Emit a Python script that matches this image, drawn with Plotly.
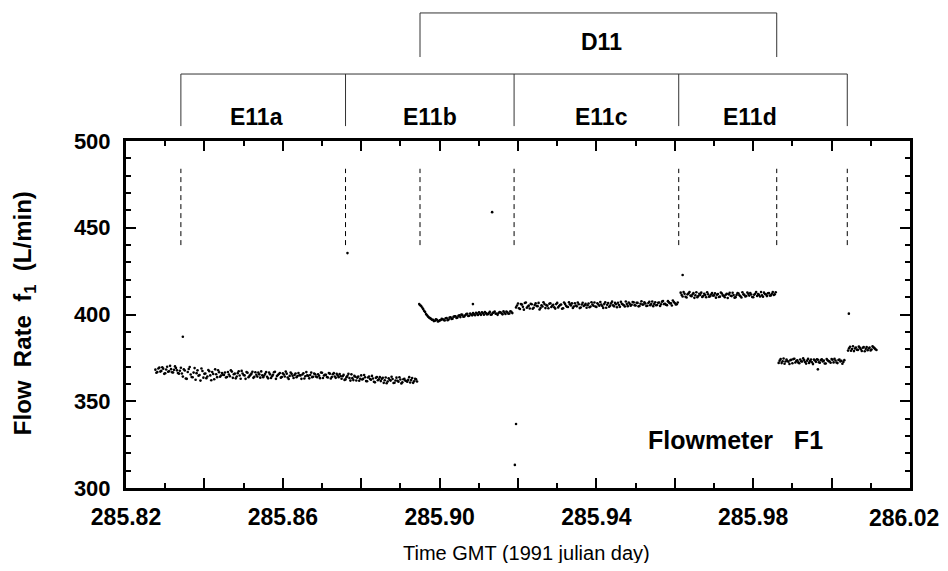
import numpy as np
import plotly.graph_objects as go

# ---------------- data ----------------
STEP = 0.0005  # sampling interval (day); second pass sampled half a step later
seg_start = [285.8275, 285.8948, 285.9195, 285.9615, 285.9865, 286.0042]

seg1 = [368.2, 366.9, 369.4, 367.5, 368.8, 366.1, 369.9, 367.3, 368.5, 366.6, 370.1, 367.8, 365.9,
        369.3, 364.2, 367.7, 362.9, 368.6, 365.4, 363.8, 369.1, 366.2, 364.7, 361.9, 367.4, 365.8,
        363.3, 368.0, 364.9, 366.8, 362.7, 365.6, 367.9, 364.1, 366.3,
        365.2, 363.7, 366.9, 364.4, 367.1, 365.6, 363.2, 366.2, 364.8, 367.5, 365.1, 362.9, 366.4,
        364.6, 365.9, 363.5, 366.7, 364.2, 365.5, 367.2,
        363.9, 365.8, 364.1, 366.5, 363.4, 365.3, 367.0, 364.5, 365.7, 363.6, 366.1, 364.3, 365.9,
        362.8, 366.6, 364.7, 365.2, 363.8, 366.3, 364.9,
        365.4, 363.1, 366.8, 364.6, 365.1, 363.9, 366.0, 364.2, 365.6, 363.3, 366.4, 364.8, 365.3,
        363.7, 365.9, 364.0, 366.2, 363.5, 364.9, 365.7,
        363.0, 365.2, 362.6, 364.7, 363.4, 365.5, 362.2, 364.1, 363.6, 361.8, 364.9, 362.9, 363.8,
        361.5, 364.3, 362.4, 363.1, 360.9, 364.0, 362.7,
        361.6, 363.5, 362.1, 360.4, 363.2, 361.9, 362.8, 360.7, 363.6, 361.3, 362.5, 360.9, 363.0,
        361.7, 362.3, 360.8, 363.4, 361.5, 362.6]
seg1b = [366.4, 368.9, 367.1, 369.6, 365.8, 368.3, 367.0, 370.4, 366.7, 368.1, 369.2, 366.3, 367.6,
         366.0, 368.4, 363.1, 366.9, 369.7, 364.0, 366.5, 362.4, 367.8, 365.1, 368.9, 363.6, 366.0,
         364.3, 367.3, 362.1, 365.7, 368.4, 363.9, 366.7, 364.8, 365.3,
         366.6, 364.0, 365.4, 367.8, 363.5, 365.9, 364.3, 367.3, 363.0, 366.0, 364.9, 366.8, 363.8,
         365.2, 367.0, 364.1, 365.3, 366.5, 363.6, 365.0,
         364.8, 366.9, 363.2, 365.5, 364.4, 366.7, 362.9, 365.1, 366.3, 364.0, 365.4, 367.1, 363.7,
         364.6, 365.8, 363.4, 366.0, 364.5, 365.0, 362.9,
         366.1, 364.4, 365.0, 363.2, 366.5, 364.1, 365.5, 363.8, 364.7, 366.6, 363.4, 365.2, 364.0,
         366.3, 363.1, 365.6, 364.3, 365.8, 363.9, 364.5,
         364.4, 362.3, 363.9, 365.8, 361.9, 363.3, 364.6, 362.0, 364.2, 363.0, 362.5, 365.1, 361.6,
         363.7, 362.8, 364.6, 361.2, 363.5, 362.1, 363.9,
         362.9, 360.6, 363.7, 361.4, 362.4, 364.1, 360.5, 362.0, 361.8, 363.8, 360.3, 362.7, 361.9,
         361.2, 363.9, 362.2, 360.6, 362.9, 361.4]

seg2 = [406.0, 404.9, 403.1, 401.4, 399.6, 398.3, 397.5, 396.9, 396.4, 397.0, 396.2, 396.8, 397.3,
        396.5, 397.9, 397.1, 398.4, 397.6, 398.9, 398.0, 399.3, 398.5, 399.8, 398.9, 400.2, 399.1,
        400.6, 399.5, 400.1, 401.0, 399.7, 400.4, 401.3, 399.9, 400.8, 400.2, 401.5, 400.0, 401.1,
        400.5, 399.8, 401.4, 400.7, 401.8, 400.3, 401.2, 400.6, 401.6]
seg2b = [405.3, 404.0, 402.1, 400.3, 398.8, 397.9, 397.0, 396.2, 397.2, 396.0, 396.6, 397.5, 396.9,
         397.8, 396.7, 398.2, 397.4, 398.7, 399.0, 398.2, 399.5, 399.9, 398.7, 399.6, 400.4, 399.3,
         400.0, 400.9, 399.6, 400.5, 401.2, 399.8, 400.7, 401.4, 400.1, 400.9, 399.9, 401.0, 401.7,
         400.4, 400.9, 401.3, 400.1, 401.0, 401.7, 400.4, 401.9, 400.8]

seg3 = [404.1, 406.3, 403.2, 405.7, 402.8, 406.9, 404.6, 403.5, 405.9, 403.9, 406.4, 404.8, 402.9,
        405.3, 407.1, 403.7, 405.0, 406.2, 404.3, 405.6,
        403.4, 406.7, 404.9, 405.8, 403.6, 406.1, 404.5, 407.0, 405.2, 403.8, 406.5, 404.7, 405.9,
        404.0, 406.8, 405.4, 403.9, 406.3, 404.6, 405.7,
        406.9, 404.3, 405.8, 407.2, 404.9, 406.0, 403.9, 406.6, 405.1, 407.4, 404.7, 405.9, 406.8,
        404.4, 406.2, 405.3, 407.5, 404.8, 406.1, 405.6,
        407.0, 405.2, 406.7, 404.9, 407.6, 405.8, 406.3, 405.0, 407.3, 406.0, 404.8, 407.1, 405.5,
        406.9, 405.9, 407.8, 406.2, 405.4, 407.0, 406.4, 408.1, 406.6, 405.9]
seg3b = [405.2, 403.6, 406.0, 404.4, 406.6, 403.9, 405.1, 406.2, 403.3, 405.5, 404.9, 406.7, 403.8,
         404.6, 406.0, 405.4, 403.6, 406.5, 405.1, 404.2,
         406.0, 404.1, 405.5, 403.3, 406.9, 405.0, 404.3, 405.9, 406.4, 404.6, 405.2, 406.9, 403.7,
         405.8, 404.9, 406.1, 405.3, 404.2, 407.1, 405.0,
         404.6, 406.5, 405.0, 405.7, 403.8, 407.0, 405.6, 404.5, 406.4, 405.3, 406.7, 404.2, 405.5,
         407.3, 405.8, 404.6, 406.0, 406.9, 405.1, 407.2,
         405.4, 406.8, 404.7, 406.2, 405.7, 407.0, 404.9, 406.6, 405.4, 407.5, 406.1, 405.3, 406.8,
         404.9, 407.4, 406.0, 405.6, 407.7, 406.5, 405.2, 407.2, 405.8, 406.9]

seg4 = [412.6, 410.4, 411.9, 409.8, 412.2, 410.9, 411.5, 409.6, 412.8, 410.7, 411.3, 410.1, 412.0,
        409.9, 411.7, 410.5, 412.4, 411.0, 409.7, 411.8, 410.3, 412.1, 410.8, 411.4, 409.5, 412.5,
        410.6, 411.2, 410.0, 412.3, 411.1, 409.8, 411.6, 410.4, 412.7, 410.9, 411.5, 409.9, 412.0,
        410.7, 411.3, 412.9, 410.2, 411.8, 410.6, 412.4, 411.0, 413.0, 411.6]
seg4b = [411.3, 412.9, 410.2, 411.6, 413.0, 410.5, 412.3, 411.1, 410.0, 411.9, 412.6, 410.6, 411.2,
         412.8, 410.3, 411.5, 410.9, 412.2, 411.4, 410.1, 412.7, 411.0, 409.9, 412.0, 411.6, 410.8,
         412.5, 409.7, 411.2, 412.1, 410.5, 412.8, 411.3, 410.7, 411.9, 412.4, 410.1, 411.4, 412.9,
         411.8, 410.4, 411.0, 412.6, 411.5, 412.2, 410.9, 412.0, 411.3, 412.8]

seg5 = [372.1, 374.3, 373.0, 371.6, 374.0, 372.8, 373.7, 371.9, 374.5, 373.2, 372.4, 374.1, 372.9,
        373.8, 371.7, 374.4, 373.1, 372.5, 374.0, 372.7, 373.9, 372.2, 374.2, 373.4, 371.8, 373.6,
        372.9, 374.3, 372.4, 373.5, 372.0, 374.1, 373.3, 372.6]
seg5b = [373.4, 372.0, 374.6, 372.9, 373.2, 371.5, 373.9, 374.3, 372.3, 373.6, 371.9, 373.0, 374.7,
         372.6, 373.4, 372.1, 374.0, 371.4, 373.5, 374.2, 372.5, 373.7, 372.9, 371.8, 374.3, 373.1,
         372.2, 373.9, 374.5, 372.3, 373.8, 372.9, 371.6, 373.7]

seg6 = [379.2, 381.4, 380.1, 378.9, 381.0, 379.6, 380.8, 379.0, 381.3, 380.2, 379.4, 380.9, 379.8,
        381.1, 380.0]
seg6b = [380.5, 379.1, 381.7, 380.4, 379.7, 381.5, 380.0, 380.8, 378.8, 381.2, 380.4, 379.3, 381.6,
         380.6, 379.5]

outlier_t = [285.8345, 285.8765, 285.9085, 285.9134, 285.9195, 285.9192, 285.9620, 285.9965, 286.0044]
outlier_f = [387.2, 435.4, 406.0, 459.0, 336.9, 313.3, 422.8, 368.4, 400.5]

e11_bounds = [285.834, 285.876, 285.919, 285.961, 286.004]
d11_bounds = [285.895, 285.986]
e11_labels = ["E11a", "E11b", "E11c", "E11d"]
d11_label = "D11"

x_tickvals = [285.82, 285.84, 285.86, 285.88, 285.90, 285.92, 285.94, 285.96, 285.98, 286.00, 286.02]
x_ticktext = ["285.82", "", "285.86", "", "285.90", "", "285.94", "", "285.98", "", ""]
x_last_label = "286.02"   # drawn as an annotation so it is not clipped by the page edge
y_tickvals = [300, 350, 400, 450, 500]
y_ticktext = ["300", "350", "400", "450", "500"]

# ---------------- build ----------------
passes = [([seg1, seg2, seg3, seg4, seg5, seg6], 0.0),
          ([seg1b, seg2b, seg3b, seg4b, seg5b, seg6b], 0.5)]
xs, ys = [], []
for segs, off in passes:
    for t0, vals in zip(seg_start, segs):
        xs.extend(t0 + STEP * (off + np.arange(len(vals))))
        ys.extend(vals)
xs.extend(outlier_t)
ys.extend(outlier_f)

fig = go.Figure()
fig.add_trace(go.Scatter(x=xs, y=ys, mode="markers",
                         marker=dict(size=2.6, color="black", line=dict(width=0)),
                         showlegend=False, hoverinfo="skip"))

SANS = "Liberation Sans, Arial, sans-serif"

shapes = []
for b in e11_bounds + d11_bounds:
    shapes.append(dict(type="line", xref="x", yref="y", x0=b, x1=b, y0=440, y1=484,
                       line=dict(color="black", width=1, dash="5px,4px")))
Y_E_TOP, Y_E_BOT = 1.193, 1.043
shapes.append(dict(type="line", xref="x", yref="paper", x0=e11_bounds[0], x1=e11_bounds[-1],
                   y0=Y_E_TOP, y1=Y_E_TOP, line=dict(color="#333", width=1)))
for b in e11_bounds:
    shapes.append(dict(type="line", xref="x", yref="paper", x0=b, x1=b, y0=Y_E_BOT, y1=Y_E_TOP,
                       line=dict(color="#333", width=1)))
Y_D_TOP, Y_D_BOT = 1.369, 1.242
shapes.append(dict(type="line", xref="x", yref="paper", x0=d11_bounds[0], x1=d11_bounds[-1],
                   y0=Y_D_TOP, y1=Y_D_TOP, line=dict(color="#333", width=1)))
for b in d11_bounds:
    shapes.append(dict(type="line", xref="x", yref="paper", x0=b, x1=b, y0=Y_D_BOT, y1=Y_D_TOP,
                       line=dict(color="#333", width=1)))

label_x = [285.8534, 285.8976, 285.9414, 285.9792]
annotations = []
for lx, lab in zip(label_x, e11_labels):
    annotations.append(dict(x=lx, y=1.069, xref="x", yref="paper", text=lab, showarrow=False,
                            font=dict(family=SANS, size=23, color="black", weight="bold"),
                            xanchor="center", yanchor="middle"))
annotations.append(dict(x=285.9412, y=1.285, xref="x", yref="paper", text=d11_label, showarrow=False,
                        font=dict(family=SANS, size=23, color="black", weight="bold"),
                        xanchor="center", yanchor="middle"))
annotations.append(dict(x=0.778, y=0.138, xref="paper", yref="paper", text="Flowmeter   F1",
                        showarrow=False, font=dict(family=SANS, size=25, color="black", weight="bold"),
                        xanchor="center", yanchor="middle"))
annotations.append(dict(x=-0.130, y=0.504, xref="paper", yref="paper",
                        text="Flow  Rate  f<sub>1</sub>  (L/min)", textangle=-90,
                        showarrow=False, font=dict(family=SANS, size=24, color="black", weight="bold"),
                        xanchor="center", yanchor="middle"))
annotations.append(dict(x=0.511, y=-0.187, xref="paper", yref="paper",
                        text="Time GMT (1991 julian day)",
                        showarrow=False, font=dict(family=SANS, size=20, color="black"),
                        xanchor="center", yanchor="middle"))
annotations.append(dict(x=1.0, y=-0.087, xref="paper", yref="paper", xshift=-6,
                        text=x_last_label, showarrow=False,
                        font=dict(family=SANS, size=23, color="black", weight="bold"),
                        xanchor="center", yanchor="middle"))

# page body adds an 8px offset; the figure is sized to fit inside the window
fig.update_layout(
    width=932, height=555,
    margin=dict(l=118, r=30, t=133, b=75),
    paper_bgcolor="white", plot_bgcolor="white",
    shapes=shapes, annotations=annotations,
    showlegend=False,
)
fig.update_xaxes(range=[285.82, 286.02], tickmode="array", tickvals=x_tickvals, ticktext=x_ticktext,
                 ticks="inside", ticklen=10, tickwidth=2, tickcolor="black",
                 minor=dict(dtick=0.01, ticks="inside", ticklen=5, tickwidth=2, tickcolor="black"),
                 showline=True, linewidth=3, linecolor="black", mirror="ticks",
                 showgrid=False, zeroline=False, ticklabelstandoff=6,
                 tickfont=dict(family=SANS, size=23, color="black", weight="bold"))
fig.update_yaxes(range=[300, 500], tickmode="array", tickvals=y_tickvals, ticktext=y_ticktext,
                 ticks="inside", ticklen=10, tickwidth=2, tickcolor="black",
                 minor=dict(dtick=10, ticks="inside", ticklen=5, tickwidth=2, tickcolor="black"),
                 showline=True, linewidth=3, linecolor="black", mirror="ticks",
                 showgrid=False, zeroline=False, ticklabelstandoff=8,
                 tickfont=dict(family=SANS, size=22, color="black", weight="bold"))

fig.write_html("out.html")
